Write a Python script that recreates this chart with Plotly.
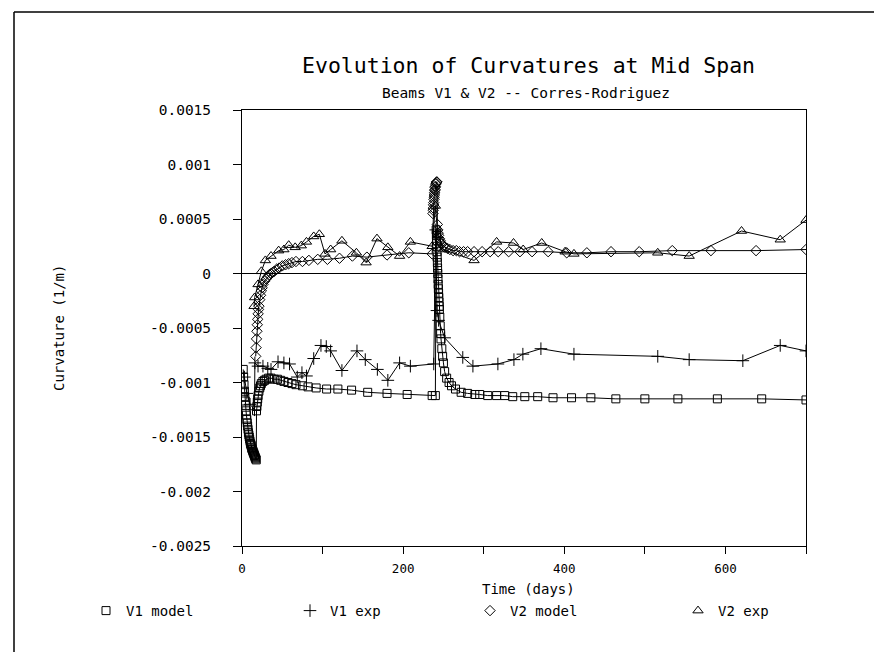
import plotly.graph_objects as go

# ---------------- data ----------------
v1_model_days = [1.5, 2, 2.5, 3, 3.5, 4, 4.5, 5, 5.5, 6, 6.5, 7, 7.5, 8, 8.5, 9, 9.5, 10, 10.5, 11,
                 11.5, 12, 12.5, 13, 13.5, 14, 14.5, 15, 15.5, 16, 16.5, 17, 17.7,
                 18, 18.5, 19, 19.5, 20, 21, 22, 23, 24, 26, 28, 30, 33, 36, 40, 44, 48, 52, 57, 62,
                 67, 75, 82, 92, 105, 119, 136, 156, 180, 205, 236, 240,
                 241, 241.25, 241.5, 241.75, 242, 242.25, 242.5, 242.75, 243, 243.25, 243.5,
                 243.75, 244, 244.25, 244.5, 244.75, 245, 245.5, 246, 246.5, 247, 248,
                 249, 250, 251.5, 254, 257, 260, 265, 272, 280, 289, 295, 305, 316, 326, 336, 351,
                 367, 386, 409, 433, 464, 500, 541, 590, 645, 700]
v1_model_vals = [-0.00088, -0.00095, -0.00102, -0.00108, -0.00113, -0.00117, -0.00121, -0.00126,
                 -0.0013, -0.00134, -0.00137, -0.0014, -0.00143, -0.00146, -0.00148, -0.0015,
                 -0.00152, -0.00154, -0.00156, -0.00157, -0.00158, -0.0016, -0.00161, -0.00162,
                 -0.00163, -0.00164, -0.00165, -0.00166, -0.00167, -0.00168, -0.00169, -0.0017,
                 -0.00171,
                 -0.00126, -0.00122, -0.00118, -0.00115, -0.00112, -0.00108, -0.00105, -0.00103,
                 -0.00101, -0.00099, -0.00098, -0.00097, -0.00096, -0.00096, -0.00097, -0.00097,
                 -0.00098, -0.00099, -0.001, -0.00101, -0.00102, -0.00103, -0.00104, -0.00105,
                 -0.00106, -0.00106, -0.00107, -0.00109, -0.0011, -0.00111, -0.00112, -0.00112,
                 0.0004, 0.00035, 0.0003, 0.00025, 0.0002, 0.00015, 0.0001, 0.00005, 0.0,
                 -0.00005, -0.0001, -0.00014, -0.00018, -0.00022, -0.00026, -0.0003, -0.00033,
                 -0.0004, -0.00048, -0.00055, -0.0006, -0.00069, -0.00076, -0.00082, -0.0009,
                 -0.00096, -0.001, -0.00103, -0.00106, -0.00109, -0.0011, -0.00111, -0.00111,
                 -0.00112, -0.00112, -0.00112, -0.00113, -0.00113, -0.00113, -0.00114, -0.00114,
                 -0.00114, -0.00115, -0.00115, -0.00115, -0.00115, -0.00115, -0.00116]

v1_exp_days = [3, 6, 10, 15.5, 16, 19.9, 26, 32, 36, 44.7, 52, 59, 68.6, 74.4, 80, 89, 98, 104.6,
               110, 124, 142.7, 153, 168, 181, 195.6, 209, 238, 240.5, 242, 244, 251.5, 274,
               286.6, 317.6, 337.5, 348.6, 371, 412, 516, 555, 621.6, 668, 700]
v1_exp_vals = [-0.00095, -0.0011, -0.0012, -0.00125, -0.00082, -0.00085, -0.00085, -0.00087,
               -0.00088, -0.00081, -0.00082, -0.00083, -0.00095, -0.00091, -0.00094, -0.00078,
               -0.00066, -0.00067, -0.00071, -0.00089, -0.00071, -0.00079, -0.00088, -0.00098,
               -0.00082, -0.00085, -0.00083, 0.0004, -0.00034, -0.00043, -0.00059, -0.00077,
               -0.00085, -0.00083, -0.00079, -0.00074, -0.00069, -0.00074, -0.00076, -0.00079,
               -0.0008, -0.00066, -0.00071]

v2_model_days = [17, 17.5, 18, 18.5, 19, 19.5, 20, 20.5, 21, 22, 23, 24, 25, 26, 28, 30, 32, 34,
                 36, 38, 40, 43, 46, 50,
                 54, 58, 62, 67, 75, 83, 94, 106, 121, 137, 155, 180, 207, 236,
                 237, 237.25, 237.5, 237.75, 238, 238.25, 238.5, 238.75, 239, 239.25, 239.5,
                 239.75, 240, 240.5, 241, 241.5, 242,
                 242.5, 243, 243.5, 244, 245, 246, 247, 248, 250, 252, 255, 258, 262, 266, 270,
                 275, 280, 288, 298, 308, 318, 331, 345, 360, 380, 403, 428, 458, 493, 534, 582,
                 638, 700]
v2_model_vals = [-0.00076, -0.00068, -0.0006, -0.00053, -0.00047, -0.00042, -0.00037, -0.00033,
                 -0.0003, -0.00024, -0.0002, -0.00016,
                 -0.00013, -0.0001, -0.00007, -0.00005, -0.00003, -0.00001, 0.0, 0.00001, 0.00002,
                 0.00004, 0.00005, 0.00007, 0.00008, 0.00009, 0.0001, 0.00011, 0.00011, 0.00012,
                 0.00013, 0.00013, 0.00014, 0.00016, 0.00015, 0.00017, 0.00019, 0.00018,
                 0.00055, 0.00058, 0.0006, 0.00063, 0.00065, 0.00068, 0.0007, 0.00072, 0.00074,
                 0.00076, 0.00077, 0.00079, 0.0008, 0.00082, 0.00083, 0.00084, 0.00084,
                 0.00045, 0.0004, 0.00037, 0.00035, 0.00032, 0.0003, 0.00028, 0.00027, 0.00025,
                 0.00024, 0.00023, 0.00022, 0.00021, 0.00021, 0.0002, 0.0002, 0.0002, 0.0002,
                 0.0002, 0.0002, 0.0002, 0.0002, 0.0002, 0.0002, 0.0002, 0.00019, 0.00019,
                 0.0002, 0.0002, 0.00021, 0.00021, 0.00021, 0.00022]

v2_exp_days = [15, 15.7, 19.9, 24, 29, 36, 45.5, 52, 58, 66, 73.6, 80, 89, 96, 103, 110, 124, 142,
               154, 167.5, 181, 195.6, 209, 236, 240, 243, 250, 288, 316, 337, 349, 372, 401, 412,
               516, 555, 620, 668, 700]
v2_exp_vals = [-0.0003, -0.00022, -0.0001, 0.00002, 0.00012, 0.00016, 0.00021, 0.00022, 0.00026,
               0.00024, 0.000256, 0.00029, 0.00034, 0.00036, 0.00018, 0.00022, 0.0003, 0.00019,
               0.0001, 0.00032, 0.00024, 0.00016, 0.00029, 0.00025, 0.00062, 0.00035, 0.00022,
               0.00012, 0.00029, 0.00028, 0.00022, 0.00028, 0.0002, 0.00018, 0.00019, 0.00016,
               0.00039, 0.00031, 0.00049]

y_tick_vals = [0.0015, 0.001, 0.0005, 0, -0.0005, -0.001, -0.0015, -0.002, -0.0025]
y_tick_text = ["0.0015", "0.001", "0.0005", "0", "-0.0005", "-0.001", "-0.0015", "-0.002", "-0.0025"]
x_tick_vals = [0, 100, 200, 300, 400, 500, 600, 700]
x_tick_text = ["0", "", "200", "", "400", "", "600", ""]

series_names = ["V1 model", "V1 exp", "V2 model", "V2 exp"]

# ---------------- layout helpers ----------------
W, H = 882, 652
L, R, T, B = 234, 798, 102, 538          # plot area in pixels
FONT = "DejaVu Sans Mono"


def xp(px):
    return (px - L) / (R - L)


def yp(py):
    return (B - py) / (B - T)


fig = go.Figure()

styles = [
    dict(symbol="square-open", size=8),
    dict(symbol="cross-thin-open", size=9),
    dict(symbol="diamond-open", size=8),
    dict(symbol="triangle-up-open", size=9),
]
data = [(v1_model_days, v1_model_vals), (v1_exp_days, v1_exp_vals),
        (v2_model_days, v2_model_vals), (v2_exp_days, v2_exp_vals)]

for (xs, ys), st, nm in zip(data, styles, series_names):
    fig.add_trace(go.Scatter(
        x=xs, y=ys, mode="lines+markers", name=nm, showlegend=False,
        line=dict(color="black", width=1),
        marker=dict(symbol=st["symbol"], size=st["size"], color="black",
                    line=dict(color="black", width=1)),
    ))

# legend-only entries (markers only, like the reference), one legend box per entry
legend_ids = ["legend", "legend2", "legend3", "legend4"]
legend_x_px = [78, 282, 462, 670]
for st, nm, lid in zip(styles, series_names, legend_ids):
    fig.add_trace(go.Scatter(
        x=[None], y=[None], mode="markers", name=nm, showlegend=True, legend=lid,
        marker=dict(symbol=st["symbol"], size=st["size"], color="black",
                    line=dict(color="black", width=1)),
    ))

legend_layout = {}
for lid, lx in zip(legend_ids, legend_x_px):
    legend_layout[lid] = dict(orientation="h", x=xp(lx), y=yp(603), xanchor="left",
                              yanchor="middle", font=dict(size=14, family=FONT),
                              bgcolor="rgba(0,0,0,0)", itemclick=False, itemdoubleclick=False)

fig.update_layout(
    width=W, height=H,
    margin=dict(l=L, r=W - R, t=T, b=H - B, pad=0),
    paper_bgcolor="white", plot_bgcolor="white",
    font=dict(family=FONT, color="black", size=12),
    showlegend=True,
    **legend_layout,
)

fig.update_xaxes(
    range=[0, 700], tickmode="array", tickvals=x_tick_vals, ticktext=x_tick_text,
    ticks="outside", ticklen=7, tickcolor="black", tickwidth=1,
    showline=True, linecolor="black", linewidth=1, mirror=True,
    showgrid=False, zeroline=False, ticklabelstandoff=4,
    tickfont=dict(size=12.5, family=FONT),
)
fig.update_yaxes(
    range=[-0.0025, 0.0015], tickmode="array", tickvals=y_tick_vals, ticktext=y_tick_text,
    ticks="outside", ticklen=8, tickcolor="black", tickwidth=1,
    showline=True, linecolor="black", linewidth=1, mirror=True,
    showgrid=False, zeroline=True, zerolinecolor="black", zerolinewidth=1,
    ticklabelstandoff=19, tickfont=dict(size=14.5, family=FONT),
)

annotations = [
    dict(text="Evolution of Curvatures at Mid Span", x=xp(520), y=yp(58),
         font=dict(size=21.5, family=FONT)),
    dict(text="Beams V1 & V2 -- Corres-Rodriguez", x=xp(518), y=yp(85),
         font=dict(size=14.5, family=FONT)),
    dict(text="Curvature (1/m)", x=xp(51), y=yp(320), textangle=-90,
         font=dict(size=14, family=FONT)),
    dict(text="Time (days)", x=xp(520), y=yp(581), font=dict(size=14, family=FONT)),
]
for a in annotations:
    fig.add_annotation(xref="paper", yref="paper", showarrow=False,
                       xanchor="center", yanchor="middle", **a)

# outer frame of the figure (left, top and right edges; bottom runs off the picture)
frame_line = dict(color="black", width=1.5)
for x0, y0, x1, y1 in [(6, 652, 6, 4), (6, 4, 876, 4), (876, 4, 876, 652)]:
    fig.add_shape(type="line", xref="paper", yref="paper",
                  x0=xp(x0), y0=yp(y0), x1=xp(x1), y1=yp(y1), line=frame_line, layer="below")

fig.write_html("out.html")
